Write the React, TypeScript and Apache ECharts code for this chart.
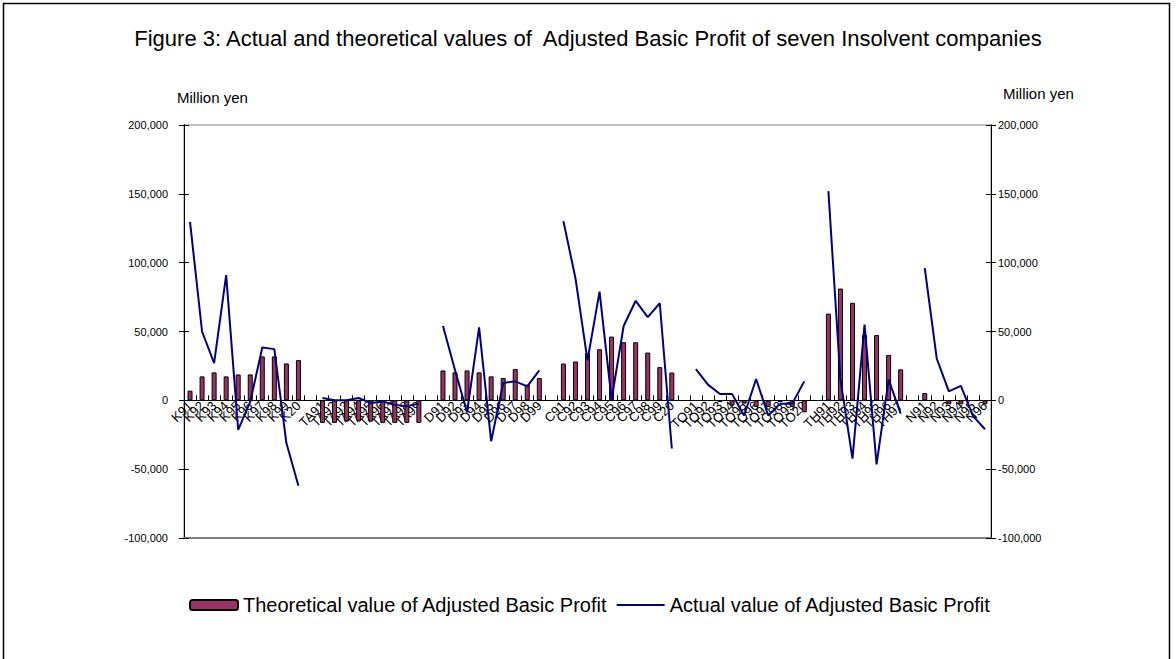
import React, { useEffect, useRef } from "react";
import * as echarts from "echarts";

const groups: string[][] = [
  ["K91", "K92", "K93", "K94", "K95", "K96", "K97", "K98", "K99", "K20"],
  ["TA91", "TA92", "TA93", "TA94", "TA95", "TA96", "TA97", "TA98", "TA99"],
  ["D91", "D92", "D93", "D94", "D95", "D96", "D97", "D98", "D99"],
  ["C91", "C92", "C93", "C94", "C95", "C96", "C97", "C98", "C99", "C20"],
  ["TO91", "TO92", "TO93", "TO94", "TO95", "TO96", "TO97", "TO98", "TO99", "TO20"],
  ["TH91", "TH92", "TH93", "TH94", "TH95", "TH96", "TH97"],
  ["N91", "N92", "N93", "N94", "N95", "N96"],
];

// Theoretical value (bars), million yen
const theoK = [7000, 17400, 20300, 17400, 18800, 18800, 31900, 31900, 26800, 29200];
const theoTA = [-16400, -16400, -15200, -14800, -15200, -16400, -16400, -16400, -16400];
const theoD = [21700, 20300, 21700, 20300, 17400, 16200, 22700, 11400, 16200];
const theoC = [26700, 28200, 34200, 37100, 46300, 42200, 42200, 34700, 24100, 20200];
const theoTO = [null, null, -1200, -3600, -2400, -4800, -4800, -1200, -4800, -8700];
const theoTH = [63000, 81200, 70800, 47400, 47400, 33000, 22500];
const theoN = [5300, null, -2900, -2900, null, -2900];

// Actual value (line), million yen
const actK = [129700, 50000, 27000, 91000, -21500, -1000, 38400, 37200, -31000, -62000];
const actTA = [1700, 0, 0, 1700, -2000, -800, -3300, -4300, -2400];
const actD = [54000, 22000, -8700, 53000, -29700, 12600, 13800, 10100, 21700];
const actC = [130200, 88700, 29000, 79000, 500, 54000, 72300, 60400, 70500, -35000];
const actTO = [22700, 11400, 4600, 4600, -11000, 15500, -11000, -2400, -2400, 13800];
const actTH = [152000, 15000, -42300, 55000, -46500, 15000, -9600];
const actN = [96000, 30200, 6500, 10500, -11300, -21000];

const yTicks = { min: -100000, max: 200000, interval: 50000 };

const theoGroups = [theoK, theoTA, theoD, theoC, theoTO, theoTH, theoN];
const actGroups = [actK, actTA, actD, actC, actTO, actTH, actN];

function joinWithGaps<T>(arr: T[][], gap: T): T[] {
  const out: T[] = [];
  arr.forEach((g, i) => {
    if (i > 0) out.push(gap);
    out.push(...g);
  });
  return out;
}

const categories = joinWithGaps<string>(groups, "");
const theoData = joinWithGaps<number | null>(theoGroups as (number | null)[][], null);
const actData = joinWithGaps<number | null>(actGroups as (number | null)[][], null);

const fmt = (v: number) => String(v).replace(/\B(?=(\d{3})+(?!\d))/g, ",");

const FONT = "Liberation Sans, Arial, sans-serif";

const GRID_TOP = 125;
const GRID_BOTTOM = 121;
const CHART_H = 659;

export default function App() {
  const ref = useRef<HTMLDivElement>(null);
  useEffect(() => {
    if (!ref.current) return;
    const chart = echarts.init(ref.current, undefined, { renderer: "svg" });
    const plotH = CHART_H - GRID_TOP - GRID_BOTTOM;
    const zeroOffset = -plotH * (0 - yTicks.min) / (yTicks.max - yTicks.min);
    const yBase = (pos: "left" | "right", labels: boolean, inside: boolean, margin: number) => ({
      type: "value",
      position: pos,
      min: yTicks.min,
      max: yTicks.max,
      interval: yTicks.interval,
      axisLine: { show: true, lineStyle: { color: "#000", width: 1 } },
      axisTick: { show: true, inside, length: 5, lineStyle: { color: "#000" } },
      axisLabel: {
        show: labels,
        formatter: fmt,
        color: "#000",
        fontSize: 11,
        fontFamily: FONT,
        margin,
      },
      splitLine: { show: false },
    });
    const theoName = "Theoretical value of Adjusted Basic Profit";
    const actName = "Actual value of Adjusted Basic Profit";
    chart.setOption({
      animation: false,
      backgroundColor: "#fff",
      title: {
        text: "Figure 3: Actual and theoretical values of  Adjusted Basic Profit of seven Insolvent companies",
        left: "center",
        top: 22,
        textStyle: { fontSize: 22, fontWeight: "normal", color: "#000", fontFamily: FONT },
      },
      graphic: [
        {
          type: "rect",
          shape: { x: 3.5, y: 3.5, width: 1166, height: 900 },
          style: { fill: "none", stroke: "#000", lineWidth: 1.5 },
          silent: true,
        },
        {
          type: "text",
          left: 177,
          top: 90,
          style: { text: "Million yen", fontSize: 15, fill: "#000", fontFamily: FONT },
        },
        {
          type: "text",
          left: 1003,
          top: 86,
          style: { text: "Million yen", fontSize: 15, fill: "#000", fontFamily: FONT },
        },
      ],
      legend: {
        left: 184,
        top: 590,
        itemWidth: 48,
        itemHeight: 10,
        itemGap: 9,
        symbolKeepAspect: true,
        textStyle: { fontSize: 20, color: "#000", fontFamily: FONT },
        data: [
          { name: theoName },
          { name: actName, icon: "path://M0,0 L50,0 L50,2 L0,2 Z", itemStyle: { color: "#000080", borderWidth: 0 } },
        ],
      },
      grid: {
        left: 184,
        right: 185,
        top: GRID_TOP,
        bottom: GRID_BOTTOM,
        show: true,
        borderColor: "#808080",
        borderWidth: 1,
        backgroundColor: "#fff",
      },
      xAxis: [
        {
          type: "category",
          data: categories,
          position: "bottom",
          offset: zeroOffset,
          axisLine: { show: true, onZero: false, lineStyle: { color: "#000", width: 1 } },
          axisTick: { show: true, inside: true, length: 5, interval: 0, lineStyle: { color: "#000" } },
          axisLabel: {
            interval: 0,
            rotate: 45,
            fontSize: 13,
            color: "#000",
            fontFamily: FONT,
            margin: 3,
          },
          splitLine: { show: false },
        },
        {
          type: "category",
          data: categories,
          position: "bottom",
          axisLine: { show: true, onZero: false, lineStyle: { color: "#808080", width: 2 } },
          axisTick: { show: false },
          axisLabel: { show: false },
          splitLine: { show: false },
        },
      ],
      yAxis: [
        yBase("left", true, true, 16),
        yBase("left", false, false, 8),
        yBase("right", true, true, 7),
        yBase("right", false, false, 8),
      ],
      series: [
        {
          name: theoName,
          type: "bar",
          data: theoData,
          xAxisIndex: 0,
          yAxisIndex: 0,
          barWidth: 5,
          itemStyle: { color: "#993366", borderColor: "#000", borderWidth: 1 },
        },
        {
          name: actName,
          type: "line",
          data: actData,
          xAxisIndex: 0,
          yAxisIndex: 2,
          symbol: "none",
          connectNulls: false,
          lineStyle: { color: "#000080", width: 2 },
          itemStyle: { color: "#000080" },
        },
      ],
    });
    return () => chart.dispose();
  }, []);
  return <div ref={ref} style={{ position: "absolute", left: 0, top: 0, width: 1176, height: 659 }} />;
}
